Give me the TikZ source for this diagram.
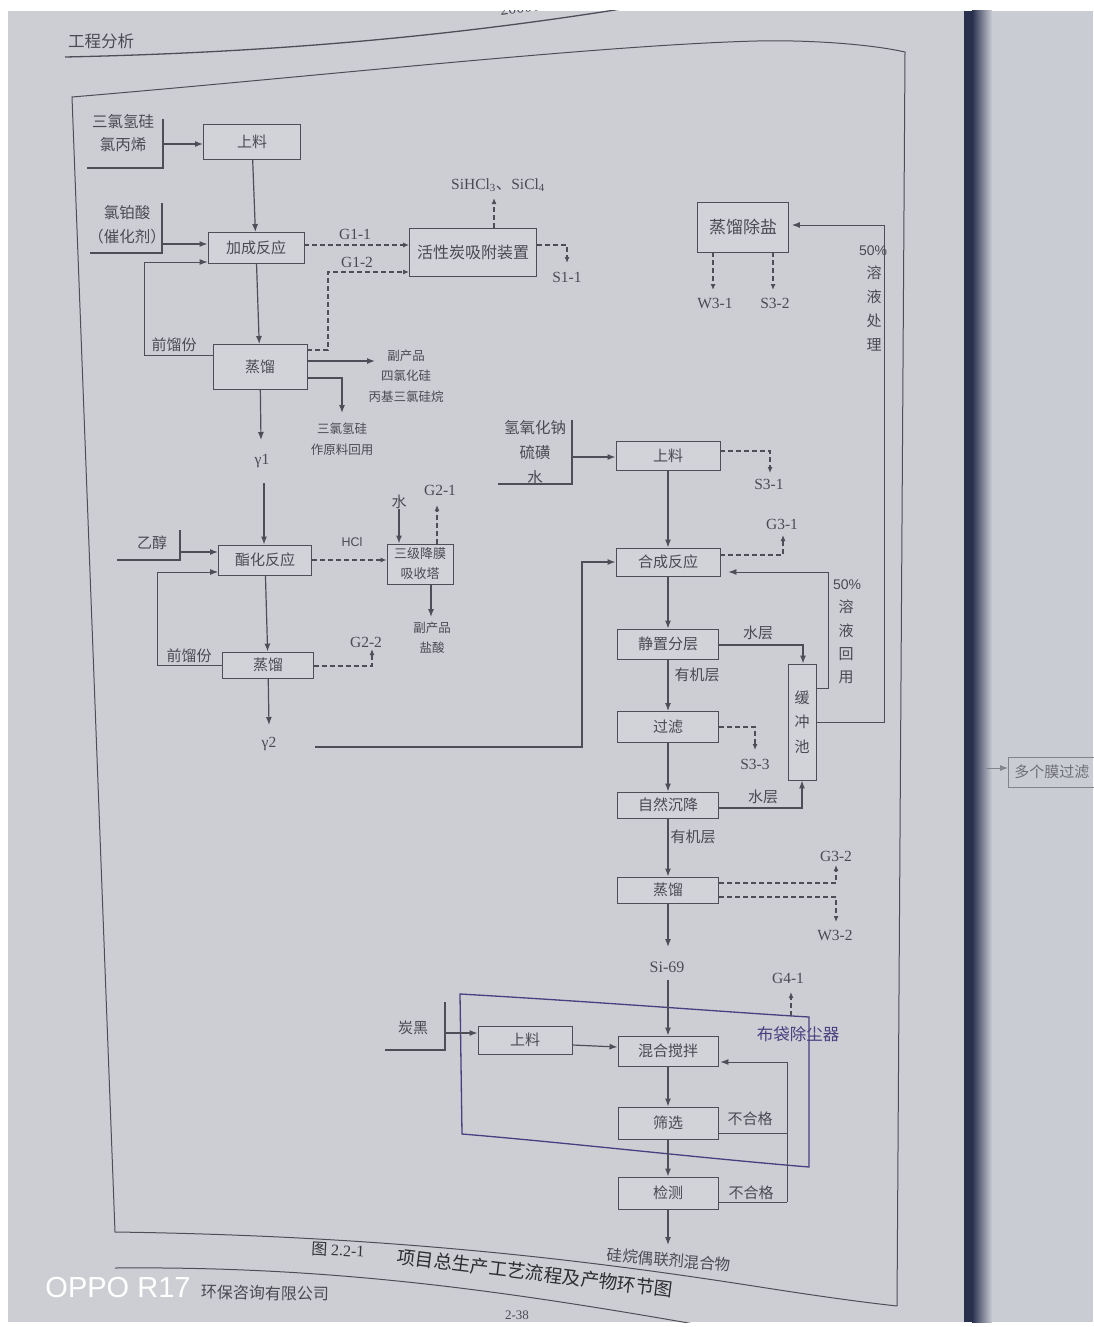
\documentclass[tikz,border=0pt]{standalone}
\usepackage{fontspec}
\usetikzlibrary{arrows.meta}
\newfontfamily\cjk{Noto Sans CJK SC}
\newfontfamily\ser{Liberation Serif}
\newfontfamily\san{Liberation Sans}
\definecolor{pg}{RGB}{205,206,212}
\definecolor{bx}{RGB}{210,211,216}
\definecolor{lc}{RGB}{78,78,88}
\definecolor{tc}{RGB}{74,74,84}
\definecolor{pu}{RGB}{72,62,128}
\definecolor{fold}{RGB}{40,48,78}
\definecolor{rp}{RGB}{202,204,212}
\tikzset{
 box/.style={draw=lc, line width=0.9pt, fill=bx, text=tc, font=\cjk\fontsize{15}{17}\selectfont, inner sep=0pt},
 arr/.style={draw=lc, line width=1.2pt, -{Latex[length=8pt,width=6pt]}},
 lparr/.style={draw=lc, line width=0.9pt, -{Latex[length=8pt,width=6pt]}},
 darr/.style={draw=lc, line width=1.3pt, dash pattern=on 5pt off 3pt, -{Latex[length=6pt,width=5pt]}},
 ln/.style={draw=lc, line width=1.2pt},
 lp/.style={draw=lc, line width=0.9pt},
 cn/.style={text=tc, font=\cjk\fontsize{15}{17}\selectfont, inner sep=0pt, align=center},
 cs/.style={text=tc, font=\cjk\fontsize{12.5}{20.5}\selectfont, inner sep=0pt, align=center},
 la/.style={text=tc, font=\ser\fontsize{15.5}{17}\selectfont, inner sep=0pt},
}
\begin{document}
\begin{tikzpicture}[x=1pt,y=-1pt]
\useasboundingbox (0,0) rectangle (1093,1327);
\fill[white] (0,0) rectangle (1093,1327);
\fill[pg] (8,11) rectangle (966,1322);
\fill[rp] (966,11) rectangle (1093,1322);
\shade[left color=fold, right color=rp] (972,11) rectangle (992,1322);
\fill[fold] (964,11) rectangle (973,1322);

\begin{scope}
\clip (8,11) rectangle (966,1322);
% header
\node[font=\cjk\fontsize{16.5}{18}\selectfont, text=tc] (hd) at (101,41) {工程分析};
\node[font=\ser\fontsize{16}{18}\selectfont, text=tc, rotate=8] (yr) at (520,8) {20000};
\draw[lc, line width=1.3pt] (65,57) .. controls (300,52) and (480,32) .. (640,6);
% outer frame
\draw[lc, line width=1pt] (897,1306) -- (905,52) .. controls (860,42) and (790,40) .. (757,41)
  .. controls (600,45) and (300,78) .. (72,97) -- (115,1232)
  .. controls (400,1236) and (600,1262) .. (760,1287) .. controls (830,1298) and (870,1303) .. (897,1306);
\end{scope}

% ===== section 1 =====
\node[cn, font=\cjk\fontsize{15.5}{23}\selectfont] (in1) at (123,133) {三氯氢硅\\氯丙烯};
\coordinate (b1t) at (163,119); \coordinate (b1b) at (163,168); \coordinate (b1l) at (87,168);
\coordinate (b1m) at (163,144);
\draw[ln] (b1t) -- (b1b) -- (b1l);
\node[box, minimum width=97pt, minimum height=35pt] (sl1) at (252,142) {上料};
\draw[arr] (b1m) -- (b1m -| sl1.west);

\node[cn, font=\cjk\fontsize{15.5}{24}\selectfont] (in2) at (127,225) {氯铂酸\\（催化剂）};
\coordinate (b2t) at (162,203); \coordinate (b2b) at (162,253); \coordinate (b2l) at (90,253);
\coordinate (b2m) at (162,244);
\draw[ln] (b2t) -- (b2b) -- (b2l);
\node[box, minimum width=96pt, minimum height=31pt] (jc) at (256,248) {加成反应};
\draw[arr] (b2m) -- (b2m -| jc.west);
\draw[arr] (sl1) -- (jc);

\node[box, minimum width=94pt, minimum height=45pt] (zl1) at (260,367) {蒸馏};
\draw[arr] (jc) -- (zl1);
\coordinate (q1) at (144,355); \coordinate (q1b) at (144,262);
\draw[lparr] (zl1.west |- q1) -- (q1) -- (q1b) -- (q1b -| jc.west);
\node[cn] (qlf1) at (174,345) {前馏份};

\node[box, minimum width=127pt, minimum height=48pt, font=\cjk\fontsize{16}{18}\selectfont] (hx) at (473,252) {活性炭吸附装置};
\draw[darr] ([yshift=3pt]jc.east) -- ([yshift=7pt]hx.west);
\node[la] (lg11) at (355,234) {G1-1};
\coordinate (g12a) at (328,350); \coordinate (g12b) at (328,272);
\draw[darr] (zl1.east |- g12a) -- (g12a) -- (g12b) -- (g12b -| hx.west);
\node[la] (lg12) at (357,262) {G1-2};
\coordinate (sih) at (494,198);
\draw[darr] (hx.north -| sih) -- (sih);
\node[la] (lsih) at (498,185) {SiHCl\textsubscript{3}{\cjk 、}SiCl\textsubscript{4}};
\coordinate (s11) at (567,245); \coordinate (s11b) at (567,263);
\draw[darr] (hx.east |- s11) -- (s11) -- (s11b);
\node[la] (ls11) at (567,277) {S1-1};

\coordinate (bp1) at (375,361);
\draw[arr] (zl1.east |- bp1) -- (bp1);
\node[cs] (lbp1) at (406,376) {副产品\\四氯化硅\\丙基三氯硅烷};
\coordinate (rc1) at (342,378); \coordinate (rc1b) at (342,413);
\draw[arr] (zl1.east |- rc1) -- (rc1) -- (rc1b);
\node[cs, font=\cjk\fontsize{12.5}{21}\selectfont] (lrc1) at (342,439) {三氯氢硅\\作原料回用};
\coordinate (gm1) at (261,440);
\draw[arr] (zl1) -- (gm1);
\node[la] (lgm1) at (262,461) {γ1};

% ===== section 2 =====
\coordinate (gm1b) at (264,483);
\node[box, minimum width=93pt, minimum height=30pt] (zh) at (265,560) {酯化反应};
\draw[arr] (gm1b) -- (gm1b |- zh.north);
\node[cn] (lyc) at (152,543) {乙醇};
\coordinate (b3t) at (180,530); \coordinate (b3b) at (180,560); \coordinate (b3l) at (117,560);
\coordinate (b3m) at (180,552);
\draw[ln] (b3t) -- (b3b) -- (b3l);
\draw[arr] (b3m) -- (b3m -| zh.west);

\node[box, minimum width=91pt, minimum height=26pt] (zl2) at (268,665) {蒸馏};
\draw[arr] (zh) -- (zl2);
\coordinate (q2) at (157,665); \coordinate (q2b) at (157,572);
\draw[lparr] (zl2.west |- q2) -- (q2) -- (q2b) -- (q2b -| zh.west);
\node[cn] (qlf2) at (189,656) {前馏份};

\node[box, minimum width=66pt, minimum height=40pt, font=\cjk\fontsize{13}{20}\selectfont, align=center] (sj) at (420,564) {三级降膜\\吸收塔};
\draw[darr] (zh.east) -- (zh.east -| sj.west);
\node[font=\san\fontsize{12.5}{14}\selectfont, text=tc, inner sep=0pt] (lhcl) at (352,542) {HCl};
\node[cn] (lsw) at (399,502) {水};
\draw[arr] (lsw) -- (lsw |- sj.north);
\coordinate (g21) at (437,505);
\draw[darr] (sj.north -| g21) -- (g21);
\node[la] (lg21) at (440,490) {G2-1};
\coordinate (hs) at (431,617);
\draw[arr] (sj.south -| hs) -- (hs);
\node[cs, font=\cjk\fontsize{12.5}{20}\selectfont] (lhs) at (432,638) {副产品\\盐酸};
\coordinate (g22) at (372,666); \coordinate (g22b) at (372,649);
\draw[darr] (zl2.east |- g22) -- (g22) -- (g22b);
\node[la] (lg22) at (366,642) {G2-2};
\coordinate (gm2) at (269,725);
\draw[arr] (zl2) -- (gm2);
\node[la] (lgm2) at (269,744) {γ2};

% ===== section 3 =====
\node[cn, font=\cjk\fontsize{15.5}{25}\selectfont] (in3) at (535,453) {氢氧化钠\\硫磺\\水};
\coordinate (b4t) at (572,420); \coordinate (b4b) at (572,484); \coordinate (b4l) at (498,484);
\coordinate (b4m) at (572,457);
\draw[ln] (b4t) -- (b4b) -- (b4l);
\node[box, minimum width=104pt, minimum height=29pt] (sl2) at (668,456) {上料};
\draw[arr] (b4m) -- (b4m -| sl2.west);
\coordinate (s31) at (770,451); \coordinate (s31b) at (770,473);
\draw[darr] (sl2.east |- s31) -- (s31) -- (s31b);
\node[la] (ls31) at (769,484) {S3-1};

\node[box, minimum width=104pt, minimum height=28pt] (hc) at (668,562) {合成反应};
\draw[arr] (sl2) -- (hc);
\coordinate (g31) at (783,555); \coordinate (g31b) at (783,535);
\draw[darr] (hc.east |- g31) -- (g31) -- (g31b);
\node[la] (lg31) at (782,524) {G3-1};
\coordinate (l2a) at (315,747); \coordinate (l2b) at (582,747);
\draw[arr] (l2a) -- (l2b) |- (hc.west);

\node[box, minimum width=101pt, minimum height=30pt] (jz) at (668,644) {静置分层};
\draw[arr] (hc) -- (jz);
\node[box, minimum width=28pt, minimum height=116pt, align=center, font=\cjk\fontsize{15}{24.5}\selectfont] (hcc) at (802,722) {缓\\冲\\池};
\coordinate (sc1) at (803,645);
\draw[arr] (jz.east |- sc1) -- (sc1) -- (sc1 |- hcc.north);
\node[cn] (lsc1) at (758,633) {水层};
\node[cn] (lyj1) at (697,675) {有机层};

\node[box, minimum width=101pt, minimum height=31pt] (gl) at (668,727) {过滤};
\draw[arr] (jz) -- (gl);
\coordinate (s33) at (755,727); \coordinate (s33b) at (755,750);
\draw[darr] (gl.east |- s33) -- (s33) -- (s33b);
\node[la] (ls33) at (755,764) {S3-3};

\coordinate (r50a) at (828,688); \coordinate (r50b) at (828,572);
\draw[lparr] (hcc.east |- r50a) -- (r50a) -- (r50b) -- ([xshift=8pt]r50b -| hc.east);
\node[font=\san\fontsize{14}{16}\selectfont, text=tc, inner sep=0pt] (l50a) at (847,585) {50\%};
\node[cn, font=\cjk\fontsize{15}{23.3}\selectfont] (l50b) at (846,642) {溶\\液\\回\\用};

\node[box, minimum width=91pt, minimum height=50pt, font=\cjk\fontsize{17}{19}\selectfont] (zc) at (743,227) {蒸馏除盐};
\coordinate (t50a) at (884,722); \coordinate (t50b) at (884,225);
\draw[lparr] (hcc.east |- t50a) -- (t50a) -- (t50b) -- ([xshift=3pt]t50b -| zc.east);
\node[font=\san\fontsize{14}{16}\selectfont, text=tc, inner sep=0pt] (l50c) at (873,251) {50\%};
\node[cn, font=\cjk\fontsize{15}{24}\selectfont] (l50d) at (874,309) {溶\\液\\处\\理};
\coordinate (w31) at (713,290);
\draw[darr] (zc.south -| w31) -- (w31);
\node[la] (lw31) at (715,303) {W3-1};
\coordinate (s32) at (773,290);
\draw[darr] (zc.south -| s32) -- (s32);
\node[la] (ls32) at (775,303) {S3-2};

\node[box, minimum width=101pt, minimum height=26pt] (zr) at (668,805) {自然沉降};
\draw[arr] (gl) -- (zr);
\coordinate (sc2) at (802,808);
\draw[arr] (zr.east |- sc2) -- (sc2) -- (sc2 |- hcc.south);
\node[cn] (lsc2) at (763,797) {水层};
\node[cn] (lyj2) at (693,837) {有机层};

\node[box, minimum width=101pt, minimum height=26pt] (zl3) at (668,890) {蒸馏};
\draw[arr] (zr) -- (zl3);
\coordinate (g32) at (836,883); \coordinate (g32b) at (836,865);
\draw[darr] (zl3.east |- g32) -- (g32) -- (g32b);
\node[la] (lg32) at (836,856) {G3-2};
\coordinate (w32) at (836,897); \coordinate (w32b) at (836,922);
\draw[darr] (zl3.east |- w32) -- (w32) -- (w32b);
\node[la] (lw32) at (835,935) {W3-2};
\coordinate (si) at (668,947);
\draw[arr] (zl3) -- (si);
\node[la, font=\ser\fontsize{16}{18}\selectfont] (lsi) at (667,967) {Si-69};

% ===== section 4 =====
\draw[pu, line width=1.3pt] (460,994) .. controls (600,1002) and (740,1013) .. (809,1017) -- (809,1167)
  .. controls (700,1158) and (560,1142) .. (462,1134) -- cycle;
\node[cn, text=pu, font=\cjk\fontsize{16.5}{18}\selectfont] (lbd) at (798,1034) {布袋除尘器};
\coordinate (g41a) at (791,1016); \coordinate (g41) at (791,992);
\draw[darr] (g41a) -- (g41);
\node[la] (lg41) at (788,978) {G4-1};

\node[box, minimum width=100pt, minimum height=30pt] (hj) at (668,1051) {混合搅拌};
\coordinate (si2) at (668,980);
\draw[arr] (si2) -- (hj);
\node[cn] (lth) at (413,1028) {炭黑};
\coordinate (b5t) at (445,1002); \coordinate (b5b) at (445,1050); \coordinate (b5l) at (385,1050);
\coordinate (b5m) at (445,1033);
\draw[ln] (b5t) -- (b5b) -- (b5l);
\node[box, minimum width=94pt, minimum height=28pt] (sl3) at (525,1040) {上料};
\draw[arr] (b5m) -- (b5m -| sl3.west);
\draw[arr] ([yshift=-5pt]sl3.east) -- ([yshift=4pt]hj.west);

\node[box, minimum width=100pt, minimum height=32pt] (sx) at (668,1123) {筛选};
\draw[arr] (hj) -- (sx);
\node[cn] (lbh1) at (750,1119) {不合格};
\coordinate (lp1) at (787,1133);
\draw[lp] (sx.east |- lp1) -- (lp1);
\node[box, minimum width=100pt, minimum height=32pt] (jc2) at (668,1193) {检测};
\draw[arr] (sx) -- (jc2);
\node[cn] (lbh2) at (751,1193) {不合格};
\coordinate (lp2) at (787,1202); \coordinate (lp3) at (787,1062);
\draw[lp] (jc2.east |- lp2) -- (lp2);
\draw[lparr] (lp2) -- (lp3) -- ([xshift=2pt]lp3 -| hj.east);
\coordinate (fin) at (668,1245);
\draw[arr] (jc2) -- (fin);
\node[cn, font=\cjk\fontsize{15.5}{17}\selectfont, rotate=-5] (lfin) at (669,1260) {硅烷偶联剂混合物};

% caption and footer
\node[font=\cjk\fontsize{16}{18}\selectfont, text=tc!70!black, rotate=-3] (cap1) at (338,1250) {图 {\ser 2.2-1}};
\node[font=\cjk\fontsize{18.5}{20}\selectfont, text=tc!60!black, rotate=-7] (cap2) at (535,1273) {项目总生产工艺流程及产物环节图};
\begin{scope}
\clip (8,11) rectangle (966,1322);
\draw[lc, line width=1pt] (115,1268) .. controls (330,1266) and (500,1290) .. (700,1325);
\end{scope}
\node[font=\cjk\fontsize{16}{18}\selectfont, text=tc, rotate=-1] (pub) at (265,1293) {环保咨询有限公司};
\node[la, font=\ser\fontsize{13}{15}\selectfont] (pn) at (517,1315) {2-38};
\node[font=\san\fontsize{29}{32}\selectfont, text=white, inner sep=0pt] (op) at (118,1288) {OPPO R17};

% right page fragment
\node[draw=lc!70, line width=0.8pt, text=tc!80, font=\cjk\fontsize{15}{17}\selectfont, minimum height=30pt, inner xsep=6pt, anchor=west] (mgl) at (1008,772) {多个膜过滤};
\coordinate (mg0) at (986,768);
\draw[lparr, draw=lc!70] (mg0) -- (mg0 -| mgl.west);
\end{tikzpicture}
\end{document}
